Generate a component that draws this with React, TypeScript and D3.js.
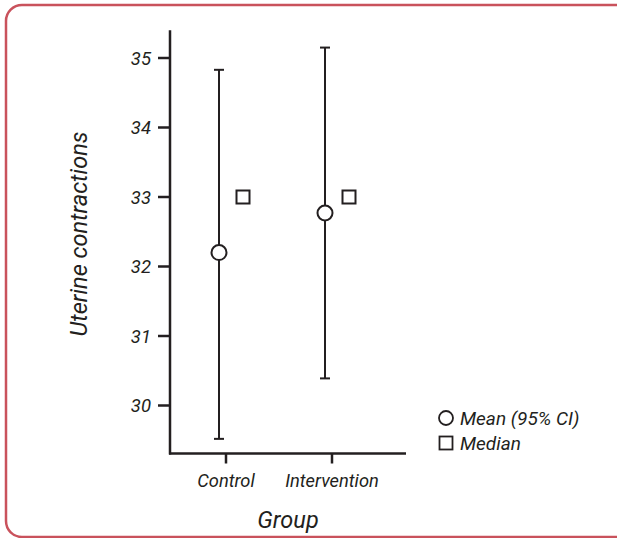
import React from "react";
import * as d3 from "d3";

const groups = ["Control", "Intervention"];
const means = [32.2, 32.77];
const ciLow = [29.52, 30.39];
const ciHigh = [34.83, 35.15];
const medians = [33.0, 33.0];
const yTicks = [30, 31, 32, 33, 34, 35];
const legendLabels = ["Mean (95% CI)", "Median"];

const W = 617;
const H = 538;
const FONT = "Roboto, sans-serif";
const INK = "#231f20";

export default function App() {
  const y = d3.scaleLinear().domain([30, 35]).range([405.5, 58]);
  const yTop = y(35.4);
  const yBottom = 453.5;
  const x = d3.scalePoint<string>().domain(groups).range([226, 332]);
  const axisLeft = 170;
  const axisRight = 406;
  const meanOff = -7;
  const medOff = 17;
  const sq = 13;

  return (
    <svg
      width={W}
      height={H}
      style={{ position: "absolute", left: 0, top: 0, background: "#fff" }}
      fontFamily={FONT}
    >
      <rect x={6} y={5} width={640} height={532} rx={16} ry={16} fill="none" stroke="#c9525c" strokeWidth={2.5} />

      {/* y axis */}
      <line x1={axisLeft} x2={axisLeft} y1={yTop} y2={yBottom + 1} stroke={INK} strokeWidth={2.5} />
      {yTicks.map((t) => (
        <g key={t}>
          <line x1={158} x2={axisLeft} y1={y(t)} y2={y(t)} stroke={INK} strokeWidth={2.5} />
          <text x={151} y={y(t)} dy="0.36em" textAnchor="end" fontSize={18.5} fontStyle="italic" fill={INK}>
            {t}
          </text>
        </g>
      ))}

      {/* x axis */}
      <line x1={axisLeft - 1} x2={axisRight} y1={yBottom} y2={yBottom} stroke={INK} strokeWidth={2.5} />
      {groups.map((g) => (
        <g key={g}>
          <line x1={x(g)!} x2={x(g)!} y1={yBottom} y2={yBottom + 10} stroke={INK} strokeWidth={2.5} />
          <text x={x(g)!} y={487} textAnchor="middle" fontSize={18.3} fontStyle="italic" fill={INK}>
            {g}
          </text>
        </g>
      ))}

      <text x={288} y={528} textAnchor="middle" fontSize={23.5} fontStyle="italic" fill={INK}>
        Group
      </text>
      <text
        transform={`translate(87, 234) rotate(-90)`}
        textAnchor="middle"
        fontSize={23.5}
        fontStyle="italic"
        fill={INK}
      >
        Uterine contractions
      </text>

      {/* data */}
      {groups.map((g, i) => {
        const cx = x(g)! + meanOff;
        const mx = x(g)! + medOff;
        return (
          <g key={g}>
            <line x1={cx} x2={cx} y1={y(ciLow[i])} y2={y(ciHigh[i])} stroke={INK} strokeWidth={2} />
            <line x1={cx - 5} x2={cx + 5} y1={y(ciLow[i])} y2={y(ciLow[i])} stroke={INK} strokeWidth={2} />
            <line x1={cx - 5} x2={cx + 5} y1={y(ciHigh[i])} y2={y(ciHigh[i])} stroke={INK} strokeWidth={2} />
            <circle cx={cx} cy={y(means[i])} r={7.5} fill="#fff" stroke={INK} strokeWidth={2} />
            <rect x={mx - sq / 2} y={y(medians[i]) - sq / 2} width={sq} height={sq} fill="#fff" stroke={INK} strokeWidth={2} />
          </g>
        );
      })}

      {/* legend */}
      <circle cx={446} cy={418} r={7} fill="#fff" stroke={INK} strokeWidth={1.8} />
      <text x={460} y={418} dy="0.36em" fontSize={19} fontStyle="italic" fill={INK}>
        {legendLabels[0]}
      </text>
      <rect x={439.5} y={436.5} width={13} height={13} fill="#fff" stroke={INK} strokeWidth={1.8} />
      <text x={460} y={443} dy="0.36em" fontSize={19} fontStyle="italic" fill={INK}>
        {legendLabels[1]}
      </text>
    </svg>
  );
}
